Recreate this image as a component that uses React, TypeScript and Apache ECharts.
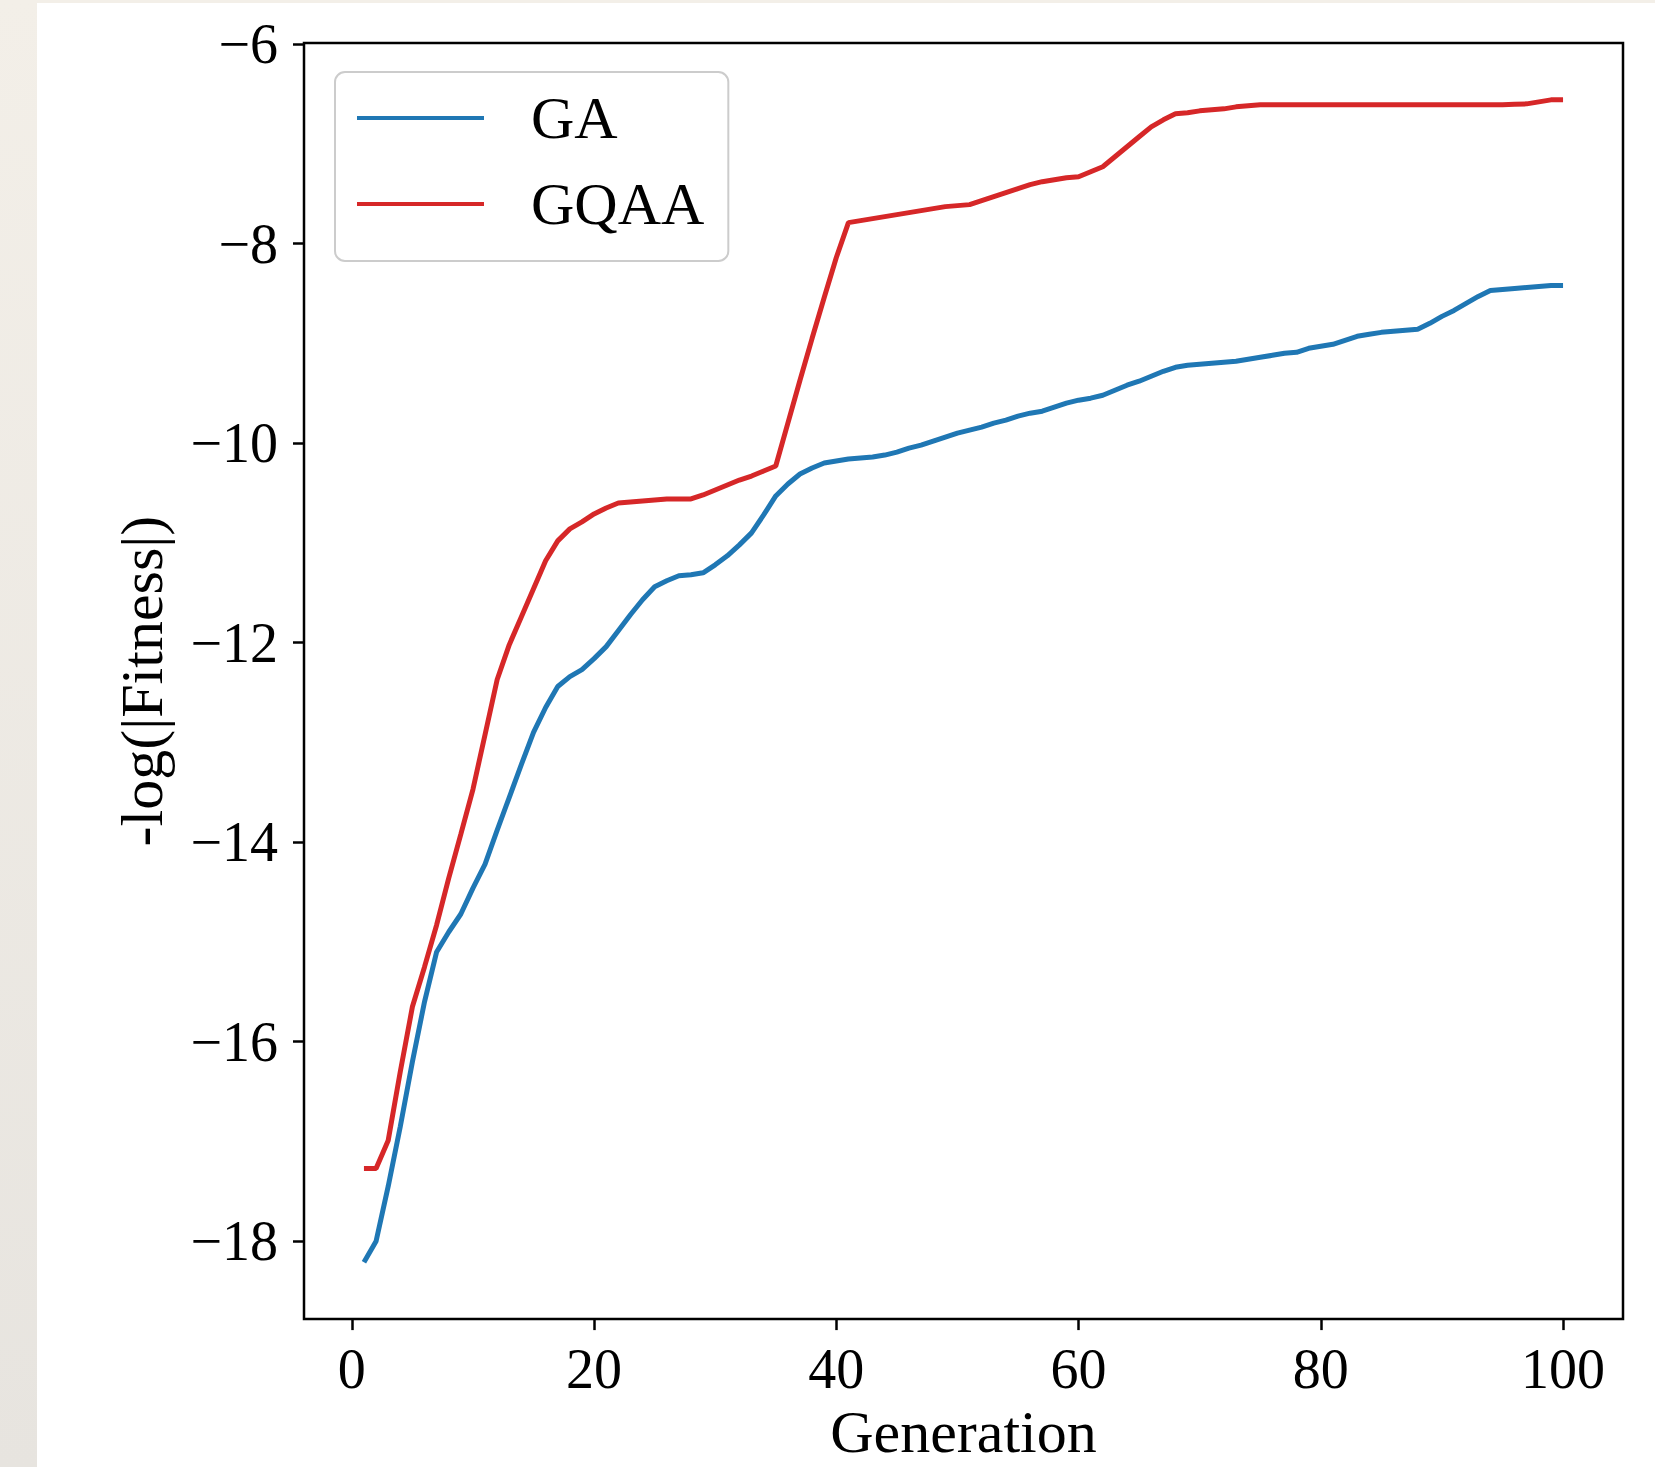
import React, { useEffect, useRef } from "react";
import * as echarts from "echarts";

const seriesNames = ["GA", "GQAA"];
const lineColors = ["#1f77b4", "#d62728"];
const xTickValues = [0, 20, 40, 60, 80, 100];
const yTickValues = [-18, -16, -14, -12, -10, -8, -6];

const gaFitness = [
  -18.21, -18.0, -17.45, -16.85, -16.2, -15.6, -15.1, -14.9, -14.72, -14.46,
  -14.22, -13.88, -13.55, -13.22, -12.9, -12.65, -12.44, -12.34, -12.27, -12.16,
  -12.04, -11.88, -11.72, -11.57, -11.44, -11.38, -11.33, -11.32, -11.3, -11.22,
  -11.13, -11.02, -10.9, -10.72, -10.53, -10.41, -10.31, -10.25, -10.2, -10.18,
  -10.16, -10.15, -10.14, -10.12, -10.09, -10.05, -10.02, -9.98, -9.94, -9.9,
  -9.87, -9.84, -9.8, -9.77, -9.73, -9.7, -9.68, -9.64, -9.6, -9.57,
  -9.55, -9.52, -9.47, -9.42, -9.38, -9.33, -9.28, -9.24, -9.22, -9.21,
  -9.2, -9.19, -9.18, -9.16, -9.14, -9.12, -9.1, -9.09, -9.05, -9.03,
  -9.01, -8.97, -8.93, -8.91, -8.89, -8.88, -8.87, -8.86, -8.8, -8.73,
  -8.67, -8.6, -8.53, -8.47, -8.46, -8.45, -8.44, -8.43, -8.42, -8.42,
];

const gqaaFitness = [
  -17.27, -17.27, -16.99, -16.3, -15.65, -15.25, -14.83, -14.36, -13.92, -13.47,
  -12.92, -12.37, -12.02, -11.74, -11.46, -11.18, -10.98, -10.86, -10.79, -10.71,
  -10.65, -10.6, -10.59, -10.58, -10.57, -10.56, -10.56, -10.56, -10.52, -10.47,
  -10.42, -10.37, -10.33, -10.28, -10.23, -9.8, -9.37, -8.95, -8.54, -8.14,
  -7.79, -7.77, -7.75, -7.73, -7.71, -7.69, -7.67, -7.65, -7.63, -7.62,
  -7.61, -7.57, -7.53, -7.49, -7.45, -7.41, -7.38, -7.36, -7.34, -7.33,
  -7.28, -7.23, -7.13, -7.03, -6.93, -6.83, -6.76, -6.7, -6.69, -6.67,
  -6.66, -6.65, -6.63, -6.62, -6.61, -6.61, -6.61, -6.61, -6.61, -6.61,
  -6.61, -6.61, -6.61, -6.61, -6.61, -6.61, -6.61, -6.61, -6.61, -6.61,
  -6.61, -6.61, -6.61, -6.61, -6.61, -6.605, -6.6, -6.58, -6.56, -6.56,
];

const FONT = "'Liberation Serif', 'Times New Roman', 'DejaVu Serif', serif";

const fmt = (v: number) => (v < 0 ? "\u2212" + Math.abs(v) : String(v));

export default function App() {
  const ref = useRef<HTMLDivElement>(null);

  useEffect(() => {
    if (!ref.current) return;
    const chart = echarts.init(ref.current, undefined, { renderer: "svg" });
    const allSeries = [gaFitness, gqaaFitness];
    chart.setOption({
      animation: false,
      backgroundColor: "#ffffff",
      textStyle: { fontFamily: FONT },
      graphic: [
        {
          type: "rect",
          left: 0,
          top: 0,
          z: -1,
          shape: { width: 37, height: 1467 },
          style: {
            fill: new echarts.graphic.LinearGradient(0, 0, 0, 1, [
              { offset: 0, color: "#f3efe8" },
              { offset: 1, color: "#e7e4df" },
            ]),
          },
        },
        {
          type: "rect",
          left: 0,
          top: 0,
          z: -1,
          shape: { width: 1655, height: 3 },
          style: { fill: "#f3efe8" },
        },
      ],
      grid: {
        left: 304,
        right: 32,
        top: 43,
        bottom: 140,
        show: true,
        borderColor: "#000",
        borderWidth: 2.5,
        backgroundColor: "#fff",
        containLabel: false,
      },
      legend: {
        orient: "vertical",
        left: 335,
        top: 72,
        icon: "rect",
        itemWidth: 127,
        itemHeight: 4,
        itemGap: 26,
        padding: [16, 24, 27, 22],
        backgroundColor: "#ffffff",
        borderColor: "#cccccc",
        borderWidth: 2,
        borderRadius: 10,
        selectedMode: false,
        data: seriesNames,
        textStyle: {
          fontFamily: FONT,
          fontSize: 60,
          lineHeight: 60,
          color: "#000",
          padding: [0, 0, 0, 42],
        },
      },
      xAxis: {
        type: "value",
        min: -3.95,
        max: 104.95,
        name: "Generation",
        nameLocation: "middle",
        nameGap: 78,
        nameTextStyle: { fontFamily: FONT, fontSize: 60, color: "#000" },
        axisLine: { show: false, onZero: false },
        splitLine: { show: false },
        axisTick: {
          show: true,
          inside: false,
          length: 11,
          customValues: xTickValues,
          lineStyle: { color: "#000", width: 2.5 },
        },
        axisLabel: {
          customValues: xTickValues,
          margin: 22,
          fontFamily: FONT,
          fontSize: 56,
          color: "#000",
          formatter: (v: number) => fmt(v),
        },
      },
      yAxis: {
        type: "value",
        min: -18.78,
        max: -5.99,
        name: "-log(|Fitness|)",
        nameLocation: "middle",
        nameGap: 132,
        nameRotate: 90,
        nameTextStyle: { fontFamily: FONT, fontSize: 60, color: "#000" },
        axisLine: { show: false, onZero: false },
        splitLine: { show: false },
        axisTick: {
          show: true,
          inside: false,
          length: 11,
          customValues: yTickValues,
          lineStyle: { color: "#000", width: 2.5 },
        },
        axisLabel: {
          customValues: yTickValues,
          margin: 26,
          fontFamily: FONT,
          fontSize: 56,
          color: "#000",
          formatter: (v: number) => fmt(v),
        },
      },
      series: seriesNames.map((name, i) => ({
        name,
        type: "line",
        showSymbol: false,
        symbol: "none",
        color: lineColors[i],
        lineStyle: { color: lineColors[i], width: 5 },
        data: allSeries[i].map((v, k) => [k + 1, v]),
      })),
    });
    return () => chart.dispose();
  }, []);

  return (
    <div
      ref={ref}
      style={{ position: "fixed", left: 0, top: 0, width: 1655, height: 1467 }}
    />
  );
}
